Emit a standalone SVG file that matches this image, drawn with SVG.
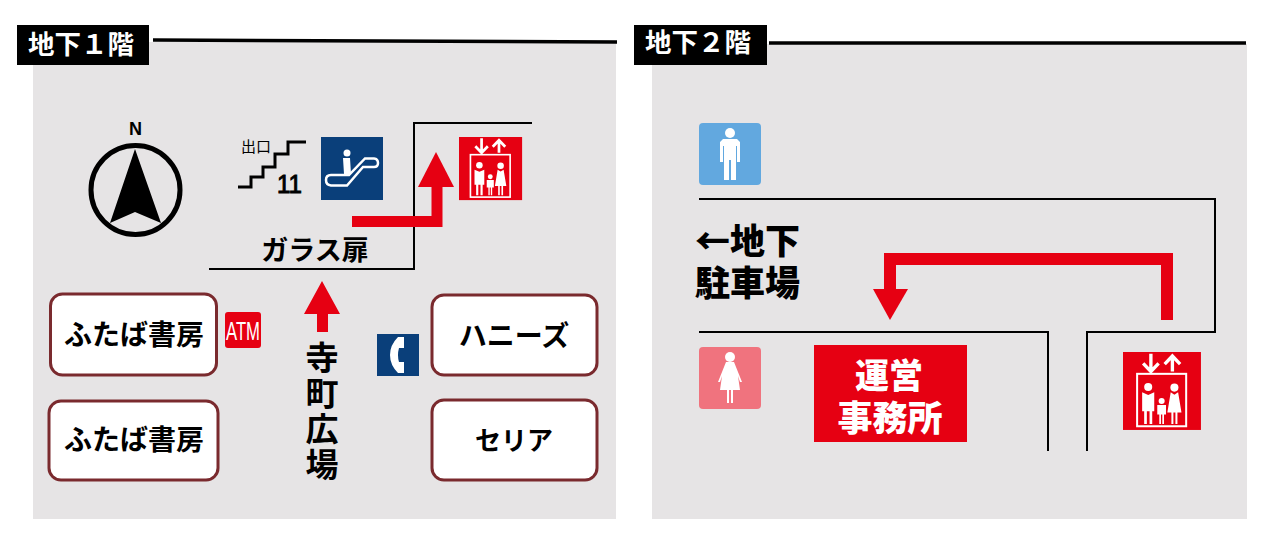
<svg xmlns="http://www.w3.org/2000/svg" width="1280" height="549" viewBox="0 0 1280 549">
<style>
text{font-family:"Noto Sans CJK JP","Noto Sans",sans-serif;font-weight:900;fill:#000}
.panel{fill:#e6e4e5}
.tb{fill:#000}
.tt{fill:#fff;font-size:26.500px;font-weight:700}
.wall{fill:none;stroke:#000;stroke-width:2}
.wall3{fill:none;stroke:#000;stroke-width:3.500}
.red{fill:#e60012}
.redl{fill:none;stroke:#e60012}
.shop{fill:#fff;stroke:#7a2a2e;stroke-width:3}
.st{font-size:28px;text-anchor:middle;font-weight:700}
.wh{fill:#fff}
.wl{fill:none;stroke:#fff}
.latin{font-family:"Liberation Sans",sans-serif}
</style>
<defs>
<g id="elev">
<rect width="232" height="232" class="red"/>
<rect x="42" y="65" width="146" height="156" class="wl" stroke-width="6"/>
<path d="M83 5V52M60 34L83 58L106 34" class="wl" stroke-width="10"/>
<path d="M147 58V14M124 36L147 12L170 36" class="wl" stroke-width="10"/>
<circle cx="75" cy="104" r="12" class="wh"/>
<path d="M57 120L75 128L93 120V176H87V214H79V176H71V214H63V176H57Z" class="wh"/>
<circle cx="115" cy="146" r="9" class="wh"/>
<path d="M102 158H128V186H122V214H117V186H113V214H108V186H102Z" class="wh"/>
<circle cx="153" cy="106" r="12" class="wh"/>
<path d="M142 120L153 127L164 120L174 180H162V214H156V180H150V214H144V180H132Z" class="wh"/>
</g>
</defs>
<rect width="1280" height="549" fill="#fff"/>
<rect class="panel" x="33" y="42" width="583" height="477"/>
<rect class="panel" x="652" y="44" width="595" height="475"/>

<g id="connectors">
<path class="wall3" d="M153 40L617 42"/>
<path class="wall3" d="M769 43H1246"/>
<path class="wall" d="M209 269H414V123H532"/>
<path class="wall" d="M699 199H1215V332H1087V451"/>
<path class="wall" d="M699 332H1048V451"/>
<path class="redl" stroke-width="11" d="M352 221.500H437V182"/>
<path class="red" d="M418 187L436 152L454 187Z"/>
<path class="red" d="M322 281L340 314H328V332H317V314H304Z"/>
<path class="redl" stroke-width="12" d="M1167 320V259H890V292"/>
<path class="red" d="M873 289H908L890 320Z"/>
</g>

<g id="title-b1"><rect class="tb" x="17" y="25" width="132" height="40"/><text class="tt" x="28" y="54">地下１階</text></g>
<g id="title-b2"><rect class="tb" x="634" y="25" width="133" height="40"/><text class="tt" x="645" y="52">地下２階</text></g>

<g id="north">
<circle cx="135.500" cy="190" r="44.500" fill="none" stroke="#000" stroke-width="5"/>
<path d="M135 149L161 223L135 212L110 223Z"/>
<text class="latin" x="135.500" y="135" font-size="18" text-anchor="middle">N</text>
</g>
<g id="exit11">
<text x="241" y="152" font-size="15" style="font-weight:400">出口</text>
<path fill="none" stroke="#000" stroke-width="3" d="M238 187H251V177H263V167H275V154H288V142H306"/>
<text class="latin" x="277" y="193" font-size="26" textLength="25" lengthAdjust="spacingAndGlyphs" style="font-weight:400;stroke:#000;stroke-width:1">11</text>
</g>
<g id="escalator">
<rect x="321" y="137" width="62" height="63" fill="#0a3f7a"/>
<circle cx="347" cy="153" r="3.500" fill="#fff"/>
<path d="M343 158H350L351 174H344Z" fill="#fff"/>
<path d="M331 175H349L365 158.500H374Q378 159 378 163Q378 167 374 167H363L347 185.500H331Q326 185 326 180Q326 175 331 175Z" fill="none" stroke="#fff" stroke-width="2.500"/>
</g>
<g id="elevator-b1"><use href="#elev" transform="translate(459 137) scale(.272)"/></g>
<g id="glass"><text x="315" y="260" font-size="27" text-anchor="middle" style="font-weight:700">ガラス扉</text></g>

<g id="futaba1"><rect class="shop" x="50.500" y="294" width="166" height="81" rx="12"/><text class="st" x="134" y="345">ふたば書房</text></g>
<g id="futaba2"><rect class="shop" x="49" y="401" width="169" height="79" rx="12"/><text class="st" x="134" y="450">ふたば書房</text></g>
<g id="atm"><rect x="225" y="312" width="36" height="36" rx="3" class="red"/><text class="latin" x="226" y="340" font-size="26" textLength="34" lengthAdjust="spacingAndGlyphs" style="font-weight:400;fill:#fff">ATM</text></g>
<g id="tel">
<rect x="377" y="334" width="42" height="42" fill="#0a3f7a"/>
<path d="M398 337H404V348H399Q397 355 399 362H404V373H398Q390 365 390 355Q390 345 398 337Z" fill="#fff"/>
</g>
<g id="honeys"><rect class="shop" x="432" y="295" width="165" height="80" rx="12"/><text class="st" x="514" y="346">ハニーズ</text></g>
<g id="seria"><rect class="shop" x="432" y="400" width="165" height="80" rx="12"/><text class="st" x="514" y="450" style="font-size:26px">セリア</text></g>
<g id="plaza"><text x="322" y="341" font-size="33" letter-spacing="2.500" style="writing-mode:vertical-rl;font-weight:700">寺町広場</text></g>

<g id="men">
<rect x="699" y="123" width="62" height="62" rx="4" fill="#62a8df"/>
<circle cx="730" cy="133" r="5" fill="#fff"/>
<path d="M723 139H737L740 142V162H737V146H736V180H731V160H729V180H724V146H723V162H720V142Z" fill="#fff"/>
</g>
<g id="women">
<rect x="699" y="347" width="62" height="62" rx="4" fill="#f0737e"/>
<circle cx="730" cy="357" r="5" fill="#fff"/>
<path d="M726 362H734L742 382H740L738 376L740 390H733V403H731V390H729V403H727V390H720L722 376L720 382H718Z" fill="#fff"/>
</g>
<g id="parking"><text font-size="35"><tspan x="695" y="254">←地下</tspan><tspan x="695" y="296">駐車場</tspan></text></g>
<g id="office"><rect x="814" y="345" width="153" height="97" class="red"/>
<text text-anchor="middle" style="fill:#fff"><tspan x="889" y="388" font-size="34">運営</tspan><tspan x="890" y="431" font-size="35">事務所</tspan></text></g>
<g id="elevator-b2"><use href="#elev" transform="translate(1123 352) scale(.336)"/></g>
</svg>
